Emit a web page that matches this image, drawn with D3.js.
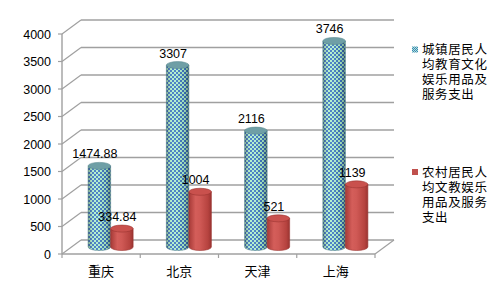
<!DOCTYPE html>
<html><head><meta charset="utf-8">
<script src="https://cdn.jsdelivr.net/npm/d3@7"></script>
<style>body{margin:0;background:#fff}svg{display:block}</style>
</head><body><div id="c"></div>
<script>
const categories = ["重庆","北京","天津","上海"];
const urbanValues = [1474.88, 3307, 2116, 3746];
const ruralValues = [334.84, 1004, 521, 1139];
const urbanLabels = ["1474.88","3307","2116","3746"];
const ruralLabels = ["334.84","1004","521","1139"];
const yTicks = [0,500,1000,1500,2000,2500,3000,3500,4000];
const legendUrban = ["城镇居民人","均教育文化","娱乐用品及","服务支出"];
const legendRural = ["农村居民人","均文教娱乐","用品及服务","支出"];

const W=504,H=296;
const svg=d3.select("#c").append("svg").attr("width",W).attr("height",H);
const defs=svg.append("defs");
// checker pattern
const pat=defs.append("pattern").attr("id","chk").attr("width",4).attr("height",4).attr("patternUnits","userSpaceOnUse");
pat.append("rect").attr("width",4).attr("height",4).attr("fill","#aef0cc");
pat.append("rect").attr("width",2).attr("height",2).attr("fill","#3f78c2");
pat.append("rect").attr("x",2).attr("y",2).attr("width",2).attr("height",2).attr("fill","#3f78c2");
const lgPat=defs.append("pattern").attr("id","chkL").attr("width",2).attr("height",2).attr("patternUnits","userSpaceOnUse");
lgPat.append("rect").attr("width",2).attr("height",2).attr("fill","#aef0cc");
lgPat.append("rect").attr("width",1).attr("height",1).attr("fill","#3f78c2");
lgPat.append("rect").attr("x",1).attr("y",1).attr("width",1).attr("height",1).attr("fill","#3f78c2");
// shading gradients
const sh=defs.append("linearGradient").attr("id","shade").attr("x1",0).attr("x2",1).attr("y1",0).attr("y2",0);
[[0,"#000",0.35],[0.25,"#fff",0.08],[0.45,"#fff",0.1],[0.8,"#000",0.1],[1,"#000",0.4]].forEach(s=>sh.append("stop").attr("offset",s[0]).attr("stop-color",s[1]).attr("stop-opacity",s[2]));
const rg=defs.append("linearGradient").attr("id","redg").attr("x1",0).attr("x2",1).attr("y1",0).attr("y2",0);
[[0,"#a63a37"],[0.3,"#d45e5a"],[0.5,"#cf5955"],[0.85,"#b6433f"],[1,"#9a3431"]].forEach(s=>rg.append("stop").attr("offset",s[0]).attr("stop-color",s[1]));

const x0=62,x1=375,dx=19,dy=-14;
const x=d3.scaleBand().domain(categories).range([x0,x1]).padding(0);
const y=d3.scaleLinear().domain([0,4000]).range([254,34]);
const sub=d3.scaleBand().domain(["u","r"]).range([0,45]);
const grid="#a0a0a0";

const g=svg.append("g");
yTicks.forEach(t=>{
  const yy=y(t);
  if(t>0) g.append("line").attr("x1",x0+dx).attr("x2",x1+dx).attr("y1",yy+dy).attr("y2",yy+dy).attr("stroke",grid).attr("stroke-width",1.4);
  g.append("line").attr("x1",x0).attr("x2",x0+dx).attr("y1",yy).attr("y2",yy+dy).attr("stroke",grid).attr("stroke-width",1.2);
});
g.append("line").attr("x1",x0+dx).attr("x2",x1+dx).attr("y1",y(0)+dy).attr("y2",y(0)+dy).attr("stroke",grid).attr("stroke-width",1.4);
g.append("line").attr("x1",x1).attr("x2",x1+dx).attr("y1",y(0)).attr("y2",y(0)+dy).attr("stroke",grid).attr("stroke-width",1.2);
g.append("line").attr("x1",x0).attr("x2",x0).attr("y1",y(0)).attr("y2",y(4000)).attr("stroke",grid).attr("stroke-width",1.4);
yTicks.forEach(t=>{
  g.append("line").attr("x1",x0-4).attr("x2",x0).attr("y1",y(t)).attr("y2",y(t)).attr("stroke",grid).attr("stroke-width",1.2);
  g.append("text").attr("x",51).attr("y",y(t)).attr("dy","0.36em").attr("text-anchor","end")
   .attr("font-family","Liberation Sans, Arial, sans-serif").attr("font-size",12.5).attr("fill","#000").text(t);
});
g.append("line").attr("x1",x0).attr("x2",x1).attr("y1",y(0)).attr("y2",y(0)).attr("stroke",grid).attr("stroke-width",1.4);
[x0,...categories.map(c=>x(c)+x.bandwidth())].forEach(xx=>{
  g.append("line").attr("x1",xx).attr("x2",xx).attr("y1",y(0)).attr("y2",y(0)+4).attr("stroke",grid).attr("stroke-width",1.2);
});
categories.forEach(c=>{
  g.append("text").attr("x",x(c)+x.bandwidth()/2).attr("y",276).attr("text-anchor","middle")
   .attr("font-family","Noto Sans CJK SC, sans-serif").attr("font-size",13).attr("fill","#000").text(c);
});

const ry=3.5;
function cyl(cx,w,v,fillBody,fillTop,stroke,shade){
  const l=cx-w/2,r=cx+w/2,bY=y(0)+dy/2,tY=y(v)+dy/2,rx=w/2;
  const p=`M${l},${tY}L${l},${bY}A${rx},${ry} 0 0 0 ${r},${bY}L${r},${tY}Z`;
  svg.append("path").attr("d",p).attr("fill",fillBody);
  if(shade) svg.append("path").attr("d",p).attr("fill","url(#shade)");
  svg.append("path").attr("d",p).attr("fill","none").attr("stroke",stroke).attr("stroke-width",0.6);
  svg.append("ellipse").attr("cx",cx).attr("cy",tY).attr("rx",rx).attr("ry",ry).attr("fill",fillTop).attr("stroke",stroke).attr("stroke-width",0.6);
}
categories.forEach((c,i)=>{
  const base=x(c)+x.bandwidth()/2-22.5+dx/2;
  const cu=base+sub("u")+sub.bandwidth()/2;
  const cr=base+sub("r")+sub.bandwidth()/2;
  cyl(cu,sub.bandwidth(),urbanValues[i],"url(#chk)","#6f9fa6","#5a8a90",true);
  cyl(cr,sub.bandwidth(),ruralValues[i],"url(#redg)","#c9514d","#9a3431",false);
});
const lf="Liberation Sans, Arial, sans-serif";
categories.forEach((c,i)=>{
  const base=x(c)+x.bandwidth()/2-22.5+dx/2;
  const cu=base+sub("u")+sub.bandwidth()/2;
  const cr=base+sub("r")+sub.bandwidth()/2;
  svg.append("text").attr("x",cu-4.5).attr("y",y(urbanValues[i])+dy/2-7.5).attr("text-anchor","middle")
   .attr("font-family",lf).attr("font-size",12.5).attr("fill","#000").text(urbanLabels[i]);
  svg.append("text").attr("x",cr-4.5).attr("y",y(ruralValues[i])+dy/2-7.5).attr("text-anchor","middle")
   .attr("font-family",lf).attr("font-size",12.5).attr("fill","#000").text(ruralLabels[i]);
});

function legend(lines,y0,fill){
  svg.append("rect").attr("x",412).attr("y",y0-3).attr("width",6).attr("height",6).attr("fill",fill);
  lines.forEach((t,i)=>svg.append("text").attr("x",422).attr("y",y0+i*15).attr("dy","0.36em")
    .attr("font-family","Noto Sans CJK SC, sans-serif").attr("font-size",12.5).attr("letter-spacing",0.6).attr("fill","#000").text(t));
}
legend(legendUrban,49.5,"url(#chkL)");
legend(legendRural,172,"#c0504d");
</script></body></html>
